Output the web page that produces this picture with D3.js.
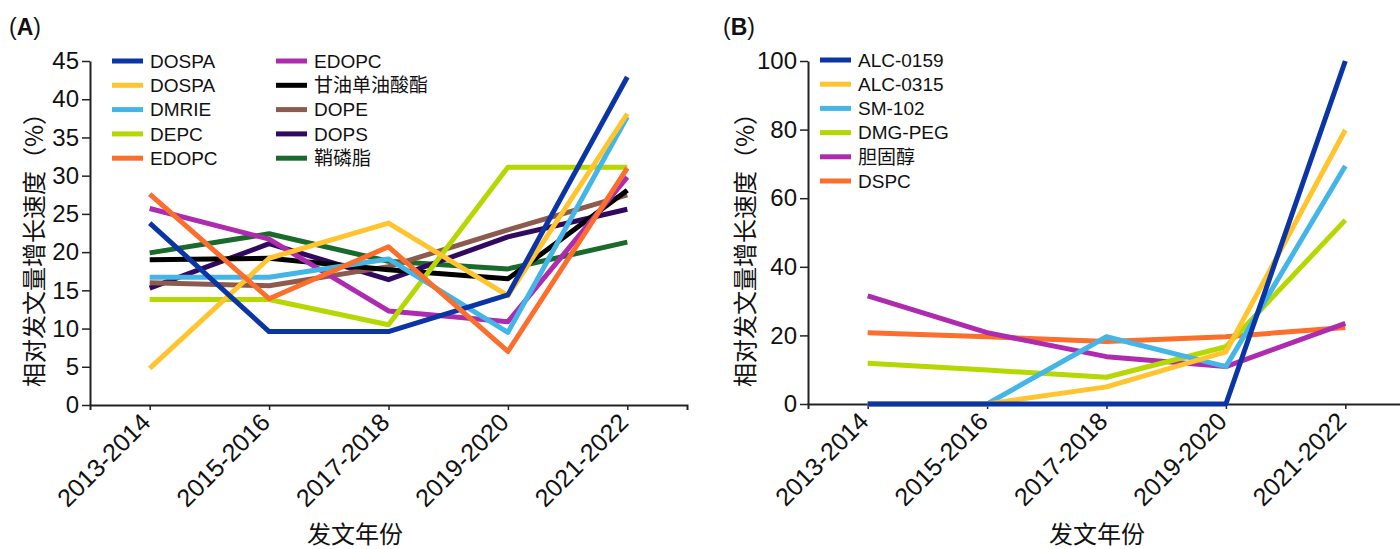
<!DOCTYPE html>
<html>
<head>
<meta charset="utf-8">
<script src="https://cdn.jsdelivr.net/npm/d3@7"></script>
<style>
  body { margin: 0; background: #fff; }
  svg text { font-family: "Liberation Sans", Arial, "Noto Sans CJK SC", sans-serif; fill: #111; }
  .cjk { font-family: "Noto Sans CJK SC", "Liberation Sans", sans-serif; }
</style>
</head>
<body>
<script>
// categories shared by both panels
var periods = ["2013-2014", "2015-2016", "2017-2018", "2019-2020", "2021-2022"];

// panel A series (relative growth %)
var namesA = ["DOSPA", "DOSPA", "DMRIE", "DEPC", "EDOPC", "EDOPC", "甘油单油酸酯", "DOPE", "DOPS", "鞘磷脂"];
var dospaBlue   = [23.8, 9.6, 9.6, 14.4, 42.9];
var dospaYellow = [4.8, 19.2, 23.8, 14.3, 38.1];
var dmrie       = [16.7, 16.7, 19.1, 9.5, 37.7];
var depc        = [13.8, 13.8, 10.5, 31.1, 31.1];
var edopcOrange = [27.6, 13.9, 20.7, 7.0, 31.0];
var edopcPurple = [25.7, 21.7, 12.3, 10.9, 29.8];
var glycerol    = [19.0, 19.2, 17.7, 16.5, 28.1];
var dope        = [16.0, 15.6, 18.1, 22.9, 27.5];
var dops        = [15.3, 21.1, 16.4, 22.0, 25.6];
var sphingo     = [19.9, 22.4, 18.8, 17.8, 21.3];
var ticksA = [0, 5, 10, 15, 20, 25, 30, 35, 40, 45];

// panel B series
var namesB = ["ALC-0159", "ALC-0315", "SM-102", "DMG-PEG", "胆固醇", "DSPC"];
var alc0159 = [0, 0, 0, 0, 100];
var alc0315 = [0, 0, 5.0, 15.2, 79.9];
var sm102   = [0, 0, 19.6, 10.9, 69.4];
var dmgpeg  = [11.9, 9.9, 7.8, 16.7, 53.6];
var chol    = [31.5, 20.8, 13.8, 10.9, 23.5];
var dspc    = [20.8, 19.6, 18.2, 19.6, 22.3];
var ticksB = [0, 20, 40, 60, 80, 100];

var colorsA = ["#0b35a4", "#ffc42e", "#43b5e6", "#b4d800", "#fb6e2b", "#ae2bb0", "#000000", "#8c5b4e", "#31095f", "#196a2b"];
var colorsB = ["#0b35a4", "#ffc42e", "#43b5e6", "#b4d800", "#ae2bb0", "#fb6e2b"];

var w = 1400, h = 549;
var svg = d3.select("body").append("svg").attr("width", w).attr("height", h);

function panel(cfg) {
  var x = d3.scalePoint().domain(periods).range(cfg.xr).padding(0.5);
  var y = d3.scaleLinear().domain([0, cfg.max]).range(cfg.yr);

  var g = svg.append("g");

  // x axis
  var xa = g.append("g")
    .attr("transform", `translate(0,${cfg.yr[0]})`)
    .call(d3.axisBottom(x).tickSize(5).tickSizeOuter(5));
  xa.select(".domain").attr("stroke", "#222").attr("stroke-width", 2);
  xa.selectAll(".tick line").attr("stroke", "#222").attr("stroke-width", 1.5);
  xa.selectAll(".tick text")
    .attr("font-size", 25)
    .attr("text-anchor", "end")
    .attr("x", null).attr("y", null).attr("dy", null)
    .attr("transform", "translate(2,19) rotate(-45)");

  // y axis
  var ya = g.append("g")
    .attr("transform", `translate(${cfg.xr[0]},0)`)
    .call(d3.axisLeft(y).tickValues(cfg.ticks).tickSize(8).tickSizeOuter(0).tickPadding(3));
  ya.select(".domain").attr("stroke", "#222").attr("stroke-width", 2);
  ya.selectAll(".tick line").attr("stroke", "#222").attr("stroke-width", 1.5);
  ya.selectAll(".tick text").attr("font-size", 24);

  // lines
  var line = d3.line().x((d, i) => x(periods[i])).y(d => y(d));
  cfg.order.forEach(function(k) {
    g.append("path")
      .datum(cfg.series[k])
      .attr("d", line)
      .attr("fill", "none")
      .attr("stroke", cfg.colors[k])
      .attr("stroke-width", 5)
      .attr("stroke-linejoin", "round");
  });

  // legend
  cfg.names.forEach(function(n, i) {
    var col = Math.floor(i / cfg.perCol), row = i % cfg.perCol;
    var lx = cfg.legX + col * cfg.colW, ly = cfg.legY + row * cfg.rowH;
    g.append("line")
      .attr("x1", lx).attr("x2", lx + 31)
      .attr("y1", ly).attr("y2", ly)
      .attr("stroke", cfg.colors[i]).attr("stroke-width", 5);
    g.append("text")
      .attr("x", lx + 38).attr("y", ly)
      .attr("dy", "0.36em")
      .attr("font-size", 19)
      .text(n);
  });

  // axis titles
  g.append("text").attr("class", "cjk")
    .attr("transform", `translate(${cfg.ytX},244) rotate(-90)`)
    .attr("text-anchor", "middle").attr("dominant-baseline", "central")
    .attr("font-size", 24)
    .text("相对发文量增长速度（%）");
  g.append("text").attr("class", "cjk")
    .attr("x", cfg.xtX).attr("y", 543)
    .attr("text-anchor", "middle")
    .attr("font-size", 24)
    .text("发文年份");

  // panel label
  var lab = g.append("text").attr("x", cfg.labX).attr("y", 35).attr("font-size", 23);
  lab.append("tspan").text("(");
  lab.append("tspan").attr("font-weight", "bold").text(cfg.label);
  lab.append("tspan").text(")");
}

panel({
  xr: [90, 687], yr: [405, 61], max: 45, ticks: ticksA,
  series: [dospaBlue, dospaYellow, dmrie, depc, edopcOrange, edopcPurple, glycerol, dope, dops, sphingo],
  order: [9, 8, 7, 6, 5, 3, 2, 1, 0, 4],
  colors: colorsA, names: namesA,
  perCol: 5, legX: 112, legY: 61, rowH: 24.3, colW: 164,
  ytX: 32, xtX: 355, labX: 9, label: "A"
});

panel({
  xr: [808, 1405], yr: [404, 61], max: 100, ticks: ticksB,
  series: [alc0159, alc0315, sm102, dmgpeg, chol, dspc],
  order: [5, 4, 3, 2, 1, 0],
  colors: colorsB, names: namesB,
  perCol: 6, legX: 820, legY: 60, rowH: 24.2, colW: 0,
  ytX: 743, xtX: 1097, labX: 723, label: "B"
});
</script>
</body>
</html>
